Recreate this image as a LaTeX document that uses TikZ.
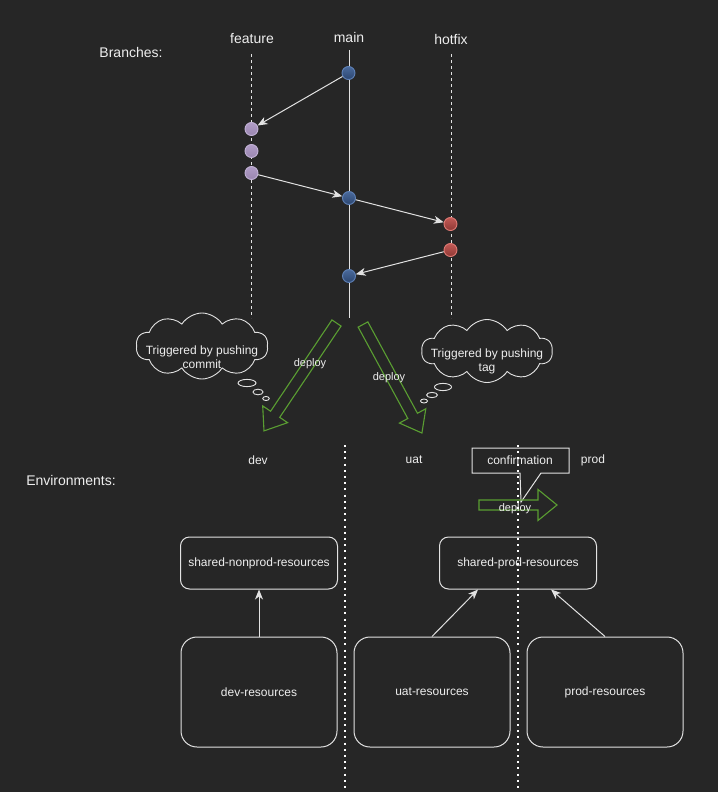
\documentclass[tikz,border=0pt]{standalone}
\usepackage{fontspec}
\setmainfont{Liberation Sans}
\usetikzlibrary{arrows.meta,shapes.symbols,calc}
\definecolor{bg}{HTML}{262626}
\definecolor{ink}{HTML}{E2E2E2}
\definecolor{txt}{HTML}{EEEEEE}
\definecolor{grn}{HTML}{5A9E32}
\definecolor{bluetop}{HTML}{4A6A9C}
\definecolor{bluebot}{HTML}{2C4670}
\definecolor{blueedge}{HTML}{5F82B8}
\definecolor{purtop}{HTML}{B09CC6}
\definecolor{purbot}{HTML}{9A86B0}
\definecolor{puredge}{HTML}{C2B2D6}
\definecolor{redtop}{HTML}{C25A56}
\definecolor{redbot}{HTML}{8E3834}
\definecolor{rededge}{HTML}{E07A74}

\begin{document}
\begin{tikzpicture}[x=1pt,y=-1pt,line width=1pt,
  big/.style={text=txt,font=\fontsize{14}{16}\selectfont,inner sep=0},
  mid/.style={text=txt,font=\fontsize{12}{14}\selectfont,inner sep=0,align=center},
  tiny/.style={text=txt,font=\fontsize{11}{13}\selectfont,inner sep=0},
  commit/.style={circle,minimum size=13pt,inner sep=0,line width=0.9pt},
  maincommit/.style={commit,draw=blueedge,top color=bluetop,bottom color=bluebot},
  featcommit/.style={commit,draw=puredge,top color=purtop,bottom color=purbot},
  fixcommit/.style={commit,draw=rededge,top color=redtop,bottom color=redbot},
  conn/.style={draw=ink,-{Stealth[length=10pt,width=8pt,inset=3pt]}},
  branchline/.style={draw=ink,dash pattern=on 3pt off 3pt},
  deployarrow/.style={draw=grn,line width=1.1pt,line join=miter},
  envbox/.style={draw=ink,rounded corners=9pt,minimum width=157pt,minimum height=52pt,
    text=txt,font=\fontsize{12}{14}\selectfont},
  resbox/.style={draw=ink,rounded corners=16pt,minimum width=156pt,minimum height=110pt,
    text=txt,font=\fontsize{12}{14}\selectfont},
  thought/.style={cloud,cloud puffs=10,cloud puff arc=115,aspect=2,draw=ink,fill=bg,
    inner sep=0,line width=0.9pt},
  bubble/.style={draw=ink,line width=0.9pt},
  envsep/.style={draw=white,line width=2pt,dash pattern=on 2pt off 4.2pt}
]
% canvas
\path[use as bounding box,fill=bg] (0,0) rectangle (718,792);

% ---------- branches ----------
\node[big] (branches) at (131,52) {Branches:};
\node[big] (featlbl) at (252,39) {feature};
\node[big] (mainlbl) at (349,37) {main};
\node[big] (fixlbl) at (451,39) {hotfix};

\coordinate (ftop) at (251,54);  \coordinate (fbot) at (251,318);
\coordinate (mtop) at (349,50);  \coordinate (mbot) at (349,318);
\coordinate (htop) at (451,54);  \coordinate (hbot) at (451,318);
\draw[branchline] (ftop) -- (fbot);
\draw[branchline] (htop) -- (hbot);
\draw[ink] (mtop) -- (mbot);

\node[maincommit] (m1) at (348.5,73) {};
\node[maincommit] (m2) at (349,198) {};
\node[maincommit] (m3) at (349,276) {};
\node[featcommit] (f1) at (251.5,129) {};
\node[featcommit] (f2) at (251.5,151) {};
\node[featcommit] (f3) at (251.5,173) {};
\node[fixcommit] (h1) at (450.5,224) {};
\node[fixcommit] (h2) at (450.5,250) {};

\draw[conn] (m1) -- (f1);
\draw[conn] (f3) -- (m2);
\draw[conn] (m2) -- (h1);
\draw[conn] (h2) -- (m3);

% ---------- triggers ----------
\node[thought,minimum width=132pt,minimum height=66pt] (cloudL) at (202,346) {};
\node[mid] (trigL) at (202,357) {Triggered by pushing\\commit};
\draw[bubble] (247,383) ellipse [x radius=9pt,y radius=3.6pt];
\draw[bubble] (258,392) ellipse [x radius=5pt,y radius=2.8pt];
\draw[bubble] (266,398.5) ellipse [x radius=3.3pt,y radius=2pt];

\node[thought,minimum width=131pt,minimum height=63pt] (cloudR) at (487,351) {};
\node[mid] (trigR) at (487,361) {Triggered by pushing\\tag};
\draw[bubble] (443,387) ellipse [x radius=8.5pt,y radius=3.6pt];
\draw[bubble] (432,395) ellipse [x radius=5.5pt,y radius=2.6pt];
\draw[bubble] (424,401) ellipse [x radius=3.5pt,y radius=2pt];

% ---------- deploy arrows ----------
\begin{scope}[shift={(336.5,323)},rotate=236.1]
  \draw[deployarrow] (0,5.5) -- (110,5.5) -- (110,15) -- (130,0) -- (110,-15) -- (110,-5.5) -- (0,-5.5) -- cycle;
\end{scope}
\node[tiny] (depL) at (310,364) {deploy};

\begin{scope}[shift={(363,324.5)},rotate=-61.5]
  \draw[deployarrow] (0,5.5) -- (104,5.5) -- (104,15) -- (123.5,0) -- (104,-15) -- (104,-5.5) -- (0,-5.5) -- cycle;
\end{scope}
\node[tiny] (depR) at (389,378) {deploy};

% ---------- environments ----------
\node[big] (envs) at (71,480) {Environments:};
\node[mid] (devlbl) at (258,460) {dev};
\node[mid] (uatlbl) at (414,460) {uat};
\node[mid] (prodlbl) at (593,460) {prod};

% approval callout and prod deploy
\draw[ink] (472,448) -- (569,448) -- (569,473) -- (541,473) -- (521,502) -- (520,473) -- (472,473) -- cycle;
\node[mid] (confirm) at (520,460) {confirmation};
\draw[deployarrow] (479,500) -- (538,500) -- (538,489.5) -- (557,505) -- (538,520.5) -- (538,510) -- (479,510) -- cycle;
\node[tiny] (depP) at (515,509) {deploy};

\node[envbox] (sharednp) at (259,563) {shared-nonprod-resources};
\node[envbox] (sharedp) at (518,563) {shared-prod-resources};
\node[resbox] (devres) at (259,692) {dev-resources};
\node[resbox] (uatres) at (432,692) {uat-resources};
\node[resbox] (prodres) at (605,692) {prod-resources};

\draw[conn] (devres.north) -- (sharednp.south);
\draw[conn] (uatres.north) -- ($(sharedp.south)+(-40,0)$);
\draw[conn] (prodres.north) -- ($(sharedp.south)+(33,0)$);

% environment separators
\coordinate (s1top) at (345,445); \coordinate (s1bot) at (345,792);
\coordinate (s2top) at (518,445); \coordinate (s2bot) at (518,792);
\draw[envsep] (s1top) -- (s1bot);
\draw[envsep] (s2top) -- (s2bot);
\end{tikzpicture}
\end{document}
